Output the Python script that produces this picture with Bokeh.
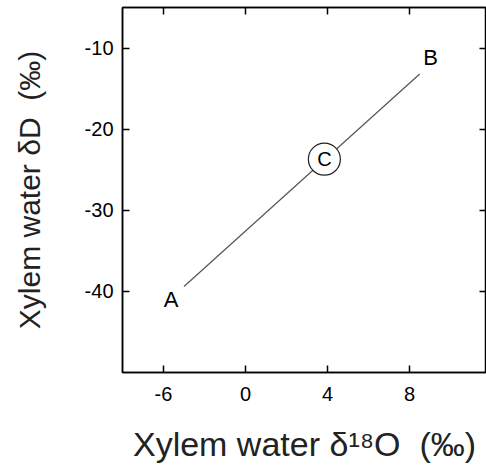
from bokeh.plotting import figure
from bokeh.models import LinearAxis, Range1d, FixedTicker, ColumnDataSource
from bokeh.embed import file_html
from bokeh.resources import INLINE
from bokeh.core.properties import value

# --- data ---
x_tick_pos = [-4, 0, 4, 8]
x_tick_labels = ["-6", "0", "4", "8"]
y_ticks = [-40, -30, -20, -10]
y_tick_labels = ["-40", "-30", "-20", "-10"]

line_x = [-3.0, 8.5]          # A -> B
line_y = [-39.4, -13.2]
point_names = ["A", "B"]
c_x = [3.85]
c_y = [-23.7]
c_name = ["C"]

FONT = "Liberation Sans, Arial, sans-serif"

p = figure(width=486, height=469, output_backend="svg", toolbar_location=None,
           x_range=Range1d(-6.0, 11.76), y_range=Range1d(-50, -5),
           min_border_left=122, min_border_top=7, min_border_right=0,
           min_border_bottom=97, background_fill_color="white",
           border_fill_color="white")
p.grid.visible = False
p.outline_line_color = "black"
p.outline_line_width = 1.5

for ax in (p.xaxis[0], p.yaxis[0]):
    ax.major_tick_in = 7
    ax.major_tick_out = 0
    ax.minor_tick_in = 0
    ax.minor_tick_out = 0
    ax.axis_line_width = 1.5
    ax.major_tick_line_width = 1.5
    ax.major_label_text_font = FONT
    ax.major_label_text_font_size = "20px"
    ax.major_label_text_color = "black"
    ax.axis_label_text_font = FONT
    ax.axis_label_text_font_style = "normal"
    ax.axis_label_text_color = "#222"

p.xaxis[0].ticker = FixedTicker(ticks=x_tick_pos)
p.xaxis[0].major_label_overrides = dict(zip(x_tick_pos, x_tick_labels))
p.xaxis[0].major_label_standoff = 14
p.xaxis[0].axis_label = "Xylem water δ¹⁸O\u00a0\u00a0(‰)"
p.xaxis[0].axis_label_text_font_size = "34px"
p.xaxis[0].axis_label_standoff = 21

p.yaxis[0].ticker = FixedTicker(ticks=y_ticks)
p.yaxis[0].major_label_overrides = dict(zip(y_ticks, y_tick_labels))
p.yaxis[0].major_label_standoff = 9
p.yaxis[0].axis_label = "Xylem water δD\u00a0\u00a0(‰)"
p.yaxis[0].axis_label_text_font_size = "30px"
p.yaxis[0].axis_label_standoff = 36

top = LinearAxis(ticker=FixedTicker(ticks=x_tick_pos),
                 major_label_overrides={t: "" for t in x_tick_pos},
                 major_tick_in=7, major_tick_out=0, minor_tick_in=0, minor_tick_out=0,
                 axis_line_width=1.5, major_tick_line_width=1.5, major_label_standoff=0)
right = LinearAxis(ticker=FixedTicker(ticks=y_ticks),
                   major_label_overrides={t: "" for t in y_ticks},
                   major_tick_in=7, major_tick_out=0, minor_tick_in=0, minor_tick_out=0,
                   axis_line_width=1.5, major_tick_line_width=1.5, major_label_standoff=0)
p.add_layout(top, "above")
p.add_layout(right, "right")

p.line(line_x, line_y, line_color="#555", line_width=1.2)

src = ColumnDataSource(dict(x=line_x, y=line_y, t=point_names,
                            dx=[-13, 11], dy=[13, -17]))
p.text(x="x", y="y", text="t", x_offset="dx", y_offset="dy", source=src,
       text_font=value(FONT), text_font_size="22px", text_align="center",
       text_baseline="middle", text_color="black")

p.scatter(c_x, c_y, marker="circle", size=32, fill_color="white",
          line_color="#222", line_width=1.2)
p.text(x=c_x, y=c_y, text=c_name, text_font=value(FONT), text_font_size="20px",
       text_align="center", text_baseline="middle", text_color="black")

open("out.html", "w").write(file_html(p, INLINE))
